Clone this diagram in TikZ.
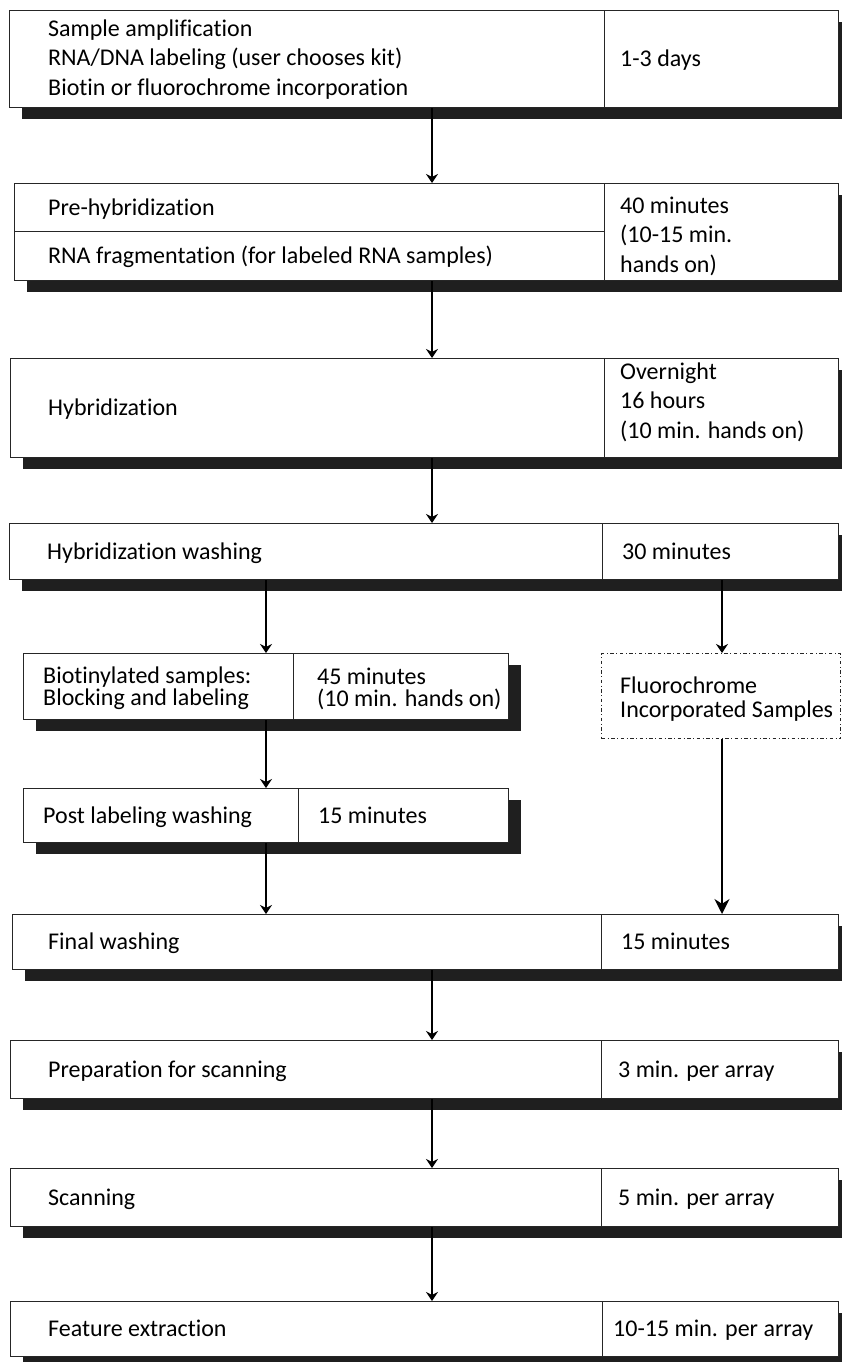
\documentclass[tikz,border=0pt]{standalone}
\usepackage{fontspec}
\setmainfont{Carlito}[Ligatures=NoCommon]
\usetikzlibrary{arrows.meta,shadows}

\begin{document}
\begin{tikzpicture}[
  x=1pt, y=-1pt,
  font=\fontsize{24}{29.5}\selectfont,
  stage/.style={draw=black!85, line width=1.3pt, fill=white, anchor=north west, inner sep=0pt,
    drop shadow={shadow xshift=12pt, shadow yshift=-11pt, fill=black!88, opacity=1}},
  optional/.style={draw=black!85, line width=1.2pt, dash pattern=on 3.5pt off 2.5pt on 1pt off 2.5pt,
    anchor=north west, inner sep=0pt},
  txt/.style={anchor=west, inner sep=0pt, align=left},
  line/.style={txt, text height=15.5pt, text depth=0pt},
  tight/.style={font=\fontsize{24}{22}\selectfont},
  arrow/.style={-{Stealth[length=9pt, width=12pt]}, line width=1.3pt},
  bigarrow/.style={-{Stealth[length=15pt, width=15pt]}, line width=2pt}
]
\useasboundingbox (0,0) rectangle (842,1362);

% main column
\node[stage, minimum width=595pt, minimum height=97pt,
  label={[txt, xshift=39pt]west:{Sample amplification\\RNA/DNA labeling (user chooses kit)\\Biotin or fluorochrome incorporation}}] (prep) at (9,10) {};
\node[stage, minimum width=234pt, minimum height=97pt,
  label={[line, xshift=16pt]west:{1-3 days}}] (prept) at (604,10) {};

\node[stage, minimum width=590pt, minimum height=48pt,
  label={[line, xshift=34pt]west:{Pre-hybridization}}] (prehyb) at (14,183) {};
\node[stage, minimum width=590pt, minimum height=49pt,
  label={[line, xshift=34pt]west:{RNA fragmentation (for labeled RNA samples)}}] (frag) at (14,231) {};
\node[stage, minimum width=234pt, minimum height=97pt,
  label={[txt, xshift=16pt, yshift=-4pt]west:{40 minutes\\(10-15 min.\\hands on)}}] (fragt) at (604,183) {};

\node[stage, minimum width=594pt, minimum height=99pt,
  label={[line, xshift=38pt]west:{Hybridization}}] (hyb) at (10,358) {};
\node[stage, minimum width=234pt, minimum height=99pt,
  label={[txt, xshift=16pt, yshift=6pt]west:{Overnight\\16 hours\\(10 min. hands on)}}] (hybt) at (604,358) {};

\node[stage, minimum width=593pt, minimum height=56pt,
  label={[line, xshift=38pt]west:{Hybridization washing}}] (hybwash) at (9,523) {};
\node[stage, minimum width=236pt, minimum height=56pt,
  label={[line, xshift=20pt]west:{30 minutes}}] (hybwasht) at (602,523) {};

% two branches
\node[stage, minimum width=270pt, minimum height=66pt,
  label={[txt, tight, xshift=20pt, yshift=-2pt]west:{Biotinylated samples:\\Blocking and labeling}}] (biotin) at (23,653) {};
\node[stage, minimum width=215pt, minimum height=66pt,
  label={[txt, tight, xshift=24pt, yshift=-2pt]west:{45 minutes\\(10 min. hands on)}}] (biotint) at (293,653) {};

\node[optional, minimum width=239pt, minimum height=85pt,
  label={[txt, font=\fontsize{24}{24}\selectfont, xshift=19pt, yshift=-3pt]west:{Fluorochrome\\Incorporated Samples}}] (fluor) at (601,653) {};

\node[stage, minimum width=275pt, minimum height=54pt,
  label={[line, xshift=20pt]west:{Post labeling washing}}] (postwash) at (23,788) {};
\node[stage, minimum width=210pt, minimum height=54pt,
  label={[line, xshift=20pt]west:{15 minutes}}] (postwasht) at (298,788) {};

\node[stage, minimum width=589pt, minimum height=55pt,
  label={[line, xshift=36pt]west:{Final washing}}] (final) at (12,914) {};
\node[stage, minimum width=237pt, minimum height=55pt,
  label={[line, xshift=20pt]west:{15 minutes}}] (finalt) at (601,914) {};

\node[stage, minimum width=591pt, minimum height=58pt,
  label={[line, xshift=38pt]west:{Preparation for scanning}}] (scanprep) at (10,1040) {};
\node[stage, minimum width=237pt, minimum height=58pt,
  label={[line, xshift=17pt]west:{3 min. per array}}] (scanprept) at (601,1040) {};

\node[stage, minimum width=591pt, minimum height=58pt,
  label={[line, xshift=38pt]west:{Scanning}}] (scan) at (10,1168) {};
\node[stage, minimum width=237pt, minimum height=58pt,
  label={[line, xshift=17pt]west:{5 min. per array}}] (scant) at (601,1168) {};

\node[stage, minimum width=592pt, minimum height=55pt,
  label={[line, xshift=38pt]west:{Feature extraction}}] (feature) at (10,1301) {};
\node[stage, minimum width=236pt, minimum height=55pt,
  label={[line, xshift=11pt]west:{10-15 min. per array}}] (featuret) at (602,1301) {};

\coordinate (mid) at (432,0);
\coordinate (lft) at (266,0);
\coordinate (rgt) at (722,0);

\draw[arrow] (mid |- prep.south) -- (mid |- prehyb.north);
\draw[arrow] (mid |- frag.south) -- (mid |- hyb.north);
\draw[arrow] (mid |- hyb.south) -- (mid |- hybwash.north);
\draw[arrow] (lft |- hybwash.south) -- (lft |- biotin.north);
\draw[arrow] (rgt |- hybwasht.south) -- (rgt |- fluor.north);
\draw[arrow] (lft |- biotin.south) -- (lft |- postwash.north);
\draw[arrow] (lft |- postwash.south) -- (lft |- final.north);
\draw[bigarrow] (rgt |- fluor.south) -- (rgt |- finalt.north);
\draw[arrow] (mid |- final.south) -- (mid |- scanprep.north);
\draw[arrow] (mid |- scanprep.south) -- (mid |- scan.north);
\draw[arrow] (mid |- scan.south) -- (mid |- feature.north);

\end{tikzpicture}
\end{document}
